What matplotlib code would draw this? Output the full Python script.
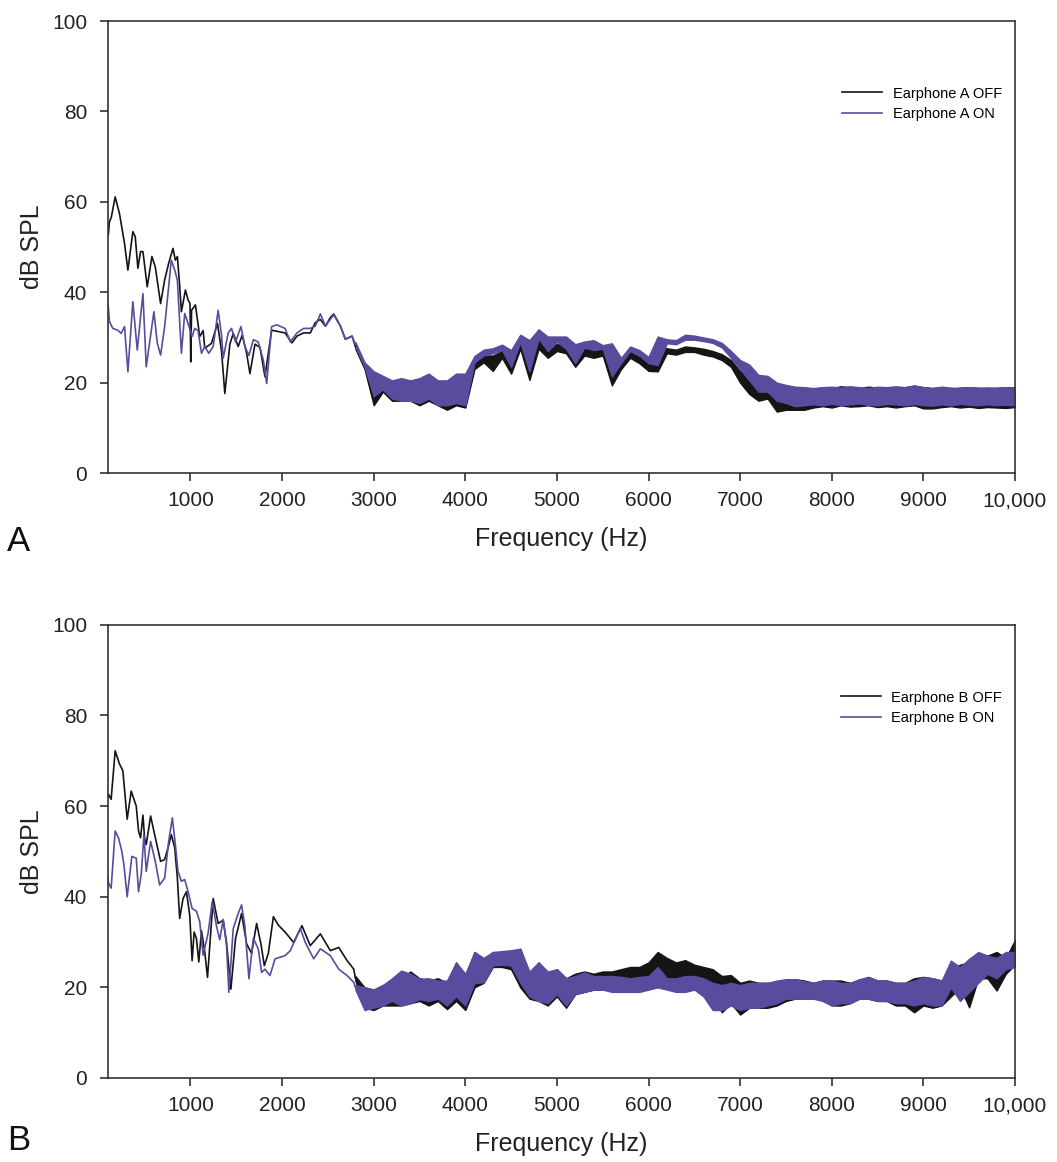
import matplotlib
matplotlib.use("Agg")
import matplotlib.pyplot as plt

plt.rcParams['font.family'] = ['Liberation Sans', 'DejaVu Sans']

# ---- Panel A: Earphone A ----
# clean part of the trace (feature points)
a_off_hz = [100, 105, 115, 135, 178, 225, 280, 317, 371, 397, 426, 455, 481, 528, 579,
            616, 674, 718, 762, 809, 835, 857, 880, 901, 945, 974, 995, 1003, 1012, 1054,
            1101, 1138, 1156, 1229, 1295, 1339, 1375, 1430, 1467, 1521, 1565, 1613, 1649, 1704, 1759,
            1813, 1886, 1960, 2033, 2108, 2162, 2235, 2308, 2363, 2418, 2473, 2527, 2564, 2637, 2691,
            2764, 2800]
a_off_db = [52.5, 53.0, 55.6, 56.5, 61.1, 57.4, 50.8, 44.9, 53.4, 52.3, 45.3, 49.0, 49.0, 41.2, 47.9,
            45.6, 37.5, 42.7, 46.4, 49.7, 47.1, 47.9, 42.0, 35.7, 40.5, 38.3, 37.5, 24.6, 36.0, 37.2,
            30.2, 31.5, 27.6, 28.7, 33.1, 27.0, 17.6, 28.5, 30.9, 28.0, 30.5, 26.5, 22.0, 28.5, 27.8,
            21.3, 31.6, 31.3, 31.0, 28.8, 30.3, 31.0, 31.0, 33.3, 34.0, 32.5, 34.4, 35.2, 32.5, 29.6,
            30.3, 28.0]
a_on_hz = [100, 116, 152, 207, 244, 280, 317, 371, 419, 481, 517, 601, 638, 674, 718,
           791, 828, 857, 901, 937, 974, 1018, 1047, 1083, 1120, 1156, 1200, 1248, 1302, 1339,
           1357, 1412, 1448, 1492, 1551, 1594, 1638, 1686, 1740, 1795, 1832, 1886, 1941, 2033, 2090,
           2162, 2235, 2308, 2363, 2418, 2473, 2527, 2564, 2637, 2691, 2764, 2800]
a_on_db = [37.5, 33.5, 32.0, 31.6, 30.9, 32.4, 22.4, 37.9, 27.2, 39.7, 23.5, 35.7, 28.7, 26.1, 32.4,
           47.1, 44.9, 42.7, 26.5, 35.3, 33.1, 30.2, 32.0, 31.5, 26.5, 28.0, 26.5, 28.0, 36.0, 30.5,
           25.4, 31.0, 32.0, 29.0, 32.4, 28.0, 26.0, 29.5, 29.0, 25.0, 19.8, 32.4, 32.8, 32.0, 29.0,
           31.0, 32.0, 32.0, 32.5, 35.2, 32.5, 34.0, 35.0, 32.5, 29.6, 30.3, 28.5]

# noisy part: low / high edge of the trace per 100 Hz, 2800 .. 10000 Hz
band_hz = list(range(2800, 10001, 100))

a_off_lo = [27.5, 23.0, 15.0, 18.0, 16.0, 16.0, 16.0, 15.0, 16.0, 15.0,
            14.0, 15.0, 14.5, 23.0, 24.5, 22.6, 25.5, 22.0, 27.5, 20.6,
            27.5, 25.5, 27.0, 26.5, 23.5, 26.0, 25.5, 26.0, 19.4, 23.0,
            25.5, 24.3, 22.6, 22.5, 26.5, 26.2, 26.8, 26.8, 26.2, 25.8,
            25.0, 23.5, 20.0, 17.5, 16.0, 16.5, 13.6, 14.0, 14.0, 14.0,
            14.5, 14.8, 14.5, 15.0, 14.7, 14.8, 15.0, 14.6, 14.8, 14.5,
            14.8, 15.0, 14.3, 14.3, 14.6, 14.8, 14.5, 14.7, 14.4, 14.6,
            14.5, 14.4, 14.6]
a_off_hi = [28.5, 24.0, 21.0, 21.0, 20.0, 20.5, 20.0, 20.0, 21.5, 20.0,
            20.0, 21.5, 21.5, 24.8, 26.0, 26.0, 27.0, 25.7, 29.4, 27.5,
            29.5, 28.3, 28.5, 28.3, 27.0, 27.5, 27.5, 27.3, 27.0, 24.8,
            26.8, 25.7, 24.5, 28.0, 27.6, 27.3, 28.0, 27.8, 27.5, 27.0,
            26.3, 25.0, 22.5, 22.0, 20.0, 19.5, 18.0, 18.5, 18.5, 18.0,
            18.5, 19.0, 18.8, 19.2, 19.0, 18.8, 19.1, 18.9, 19.0, 18.8,
            19.0, 19.3, 19.0, 18.8, 19.0, 18.7, 18.9, 19.0, 18.8, 18.9,
            18.8, 19.0, 18.9]
a_on_lo = [28.0, 23.5, 17.0, 18.5, 16.5, 16.0, 16.0, 15.5, 16.5, 15.0,
           15.0, 15.5, 15.0, 24.5, 26.0, 26.5, 27.2, 23.5, 29.0, 22.5,
           29.8, 27.0, 29.0, 27.5, 24.3, 27.8, 27.2, 27.5, 21.4, 24.3,
           27.0, 26.0, 24.3, 23.9, 28.7, 28.5, 29.5, 29.5, 29.2, 28.8,
           27.8, 25.5, 23.0, 20.5, 18.0, 18.0, 16.0, 15.5, 14.8, 15.0,
           15.2, 15.0, 15.3, 15.0, 15.2, 15.4, 15.1, 15.0, 15.3, 15.2,
           15.0, 15.3, 15.0, 14.9, 15.2, 15.0, 15.3, 15.1, 15.0, 15.2,
           15.0, 15.1, 15.0]
a_on_hi = [29.0, 24.5, 22.5, 21.5, 20.5, 21.0, 20.5, 21.0, 22.0, 20.5,
           20.5, 22.0, 22.0, 25.9, 27.3, 27.6, 28.4, 27.2, 30.6, 29.4,
           31.8, 30.2, 30.2, 30.2, 28.5, 29.1, 29.4, 28.3, 28.7, 25.5,
           28.0, 27.2, 25.7, 30.2, 29.6, 29.4, 30.6, 30.4, 30.0, 29.6,
           28.8, 27.0, 25.0, 24.0, 21.7, 21.5, 20.0, 19.5, 19.1, 19.0,
           18.8, 19.0, 19.1, 18.9, 19.2, 19.0, 18.8, 19.1, 19.0, 19.2,
           19.0, 19.4, 19.0, 18.8, 19.1, 18.9, 18.8, 19.0, 18.9, 18.8,
           18.9, 19.0, 18.8]

# ---- Panel B: Earphone B ----
b_off_hz = [100, 105, 134, 178, 225, 262, 309, 353, 408, 433, 455, 481, 499, 517, 565,
            609, 674, 718, 755, 791, 828, 857, 882, 919, 956, 992, 1018, 1040, 1065, 1091,
            1120, 1156, 1186, 1248, 1302, 1357, 1393, 1441, 1492, 1558, 1613, 1667, 1722, 1770, 1806,
            1850, 1905, 1960, 2033, 2126, 2217, 2308, 2418, 2527, 2619, 2710, 2783, 2800]
b_off_db = [62.0, 62.6, 61.5, 72.2, 69.3, 67.8, 57.1, 63.3, 60.0, 54.5, 53.0, 58.0, 53.0, 51.5, 57.8,
            53.7, 47.8, 48.2, 50.8, 53.7, 50.8, 44.1, 35.2, 39.6, 41.1, 35.9, 25.9, 32.2, 30.8, 25.6,
            32.5, 27.8, 22.2, 39.6, 34.1, 34.8, 30.0, 19.6, 30.8, 36.3, 29.6, 27.5, 34.1, 29.5, 24.8,
            27.5, 35.6, 33.7, 32.2, 29.9, 33.6, 29.2, 31.8, 28.1, 28.8, 25.9, 24.0, 22.0]
b_on_hz = [100, 105, 134, 178, 214, 251, 273, 309, 360, 408, 433, 463, 492, 517, 565,
           616, 663, 718, 762, 802, 835, 864, 901, 937, 974, 1018, 1065, 1101, 1138, 1193,
           1237, 1284, 1320, 1357, 1393, 1419, 1467, 1521, 1558, 1594, 1638, 1686, 1740, 1777, 1813,
           1868, 1923, 2033, 2090, 2199, 2254, 2345, 2418, 2527, 2619, 2710, 2783, 2800]
b_on_db = [44.0, 43.0, 41.9, 54.5, 53.0, 50.0, 47.1, 40.0, 48.9, 48.5, 41.1, 45.0, 53.7, 45.6, 52.2,
           47.8, 42.6, 44.1, 52.2, 57.4, 51.5, 45.6, 43.4, 43.8, 41.1, 37.4, 36.8, 34.5, 27.1, 32.0,
           38.9, 33.5, 30.5, 35.0, 29.5, 18.9, 33.0, 36.3, 38.2, 33.5, 21.9, 30.8, 28.5, 23.3, 24.0,
           22.6, 26.3, 27.0, 28.1, 33.0, 29.9, 26.3, 28.5, 27.0, 24.0, 22.6, 21.1, 20.0]

b_off_lo = [21.5, 15.5, 15.0, 16.0, 16.0, 16.0, 16.5, 17.0, 16.0, 17.0,
            15.2, 17.0, 15.0, 20.0, 21.0, 24.5, 24.5, 24.0, 20.0, 17.5,
            17.0, 16.0, 18.0, 15.5, 18.5, 19.0, 19.5, 19.5, 19.5, 19.5,
            20.0, 20.0, 20.0, 21.0, 21.0, 21.0, 20.5, 20.0, 19.0, 18.0,
            14.5, 16.5, 14.0, 15.5, 15.5, 15.5, 16.0, 17.0, 17.5, 17.5,
            17.5, 17.5, 16.0, 16.0, 16.5, 17.5, 17.5, 17.0, 17.0, 16.0,
            16.0, 14.5, 16.0, 15.5, 16.0, 18.0, 20.0, 15.6, 22.0, 22.0,
            19.3, 23.0, 25.0]
b_off_hi = [22.5, 20.0, 19.5, 20.5, 21.0, 22.0, 23.5, 22.0, 21.5, 22.0,
            21.0, 25.5, 22.0, 27.8, 26.0, 27.8, 27.5, 28.0, 28.5, 23.0,
            25.5, 23.0, 24.0, 22.0, 23.0, 23.5, 23.0, 23.5, 23.5, 24.0,
            24.5, 24.5, 25.5, 27.8, 26.5, 25.5, 26.0, 25.0, 24.5, 24.0,
            22.5, 22.7, 21.0, 21.5, 21.0, 21.0, 21.0, 21.5, 21.8, 21.5,
            21.0, 21.5, 21.5, 21.5, 21.0, 21.5, 22.3, 21.5, 21.5, 21.0,
            21.0, 22.0, 22.3, 22.0, 21.5, 24.0, 25.0, 25.5, 27.5, 27.0,
            27.8, 26.5, 30.4]
b_on_lo = [19.5, 15.0, 15.5, 16.0, 17.0, 16.0, 16.5, 17.4, 17.0, 17.5,
           16.0, 18.0, 16.0, 21.0, 21.1, 24.8, 25.0, 24.8, 21.0, 18.0,
           17.0, 16.5, 18.5, 16.0, 18.5, 19.0, 19.5, 19.5, 19.0, 19.0,
           19.0, 19.0, 19.5, 20.0, 19.5, 19.0, 19.0, 19.5, 18.0, 15.0,
           15.0, 16.0, 15.0, 15.5, 15.5, 16.0, 16.5, 17.5, 17.5, 17.5,
           17.5, 17.0, 16.0, 16.5, 16.5, 17.5, 17.5, 17.0, 17.0, 16.5,
           16.5, 16.0, 16.5, 16.0, 16.0, 20.0, 17.0, 19.0, 21.0, 23.0,
           22.0, 24.0, 24.5]
b_on_hi = [20.5, 20.0, 19.5, 20.5, 22.0, 23.7, 23.0, 21.9, 22.0, 21.5,
           21.5, 25.5, 23.0, 27.8, 26.5, 27.8, 28.0, 28.2, 28.5, 23.5,
           25.5, 23.5, 24.0, 22.0, 22.5, 23.3, 22.5, 22.5, 22.5, 22.3,
           22.0, 22.3, 22.5, 24.5, 22.0, 22.0, 22.5, 22.5, 22.0, 21.0,
           20.5, 21.0, 20.5, 21.0, 21.0, 21.0, 21.5, 21.8, 21.8, 21.3,
           21.0, 21.5, 21.5, 21.0, 21.0, 21.8, 22.3, 21.5, 21.5, 21.0,
           21.0, 21.5, 22.3, 22.0, 21.5, 25.9, 24.5, 26.3, 27.8, 27.0,
           26.5, 27.8, 27.8]

x_ticks = [1000, 2000, 3000, 4000, 5000, 6000, 7000, 8000, 9000, 10000]
x_tick_labels = ['1000', '2000', '3000', '4000', '5000', '6000', '7000', '8000', '9000', '10,000']
y_ticks = [0, 20, 40, 60, 80, 100]

BLACK = '#151515'
PURPLE = '#5b4b9f'


def draw_panel(ax, name, off_hz, off_db, off_lo, off_hi, on_hz, on_db, on_lo, on_hi):
    ax.plot(off_hz, off_db, color=BLACK, lw=1.2, label=f'Earphone {name} OFF')
    ax.fill_between(band_hz, off_lo, off_hi, color=BLACK, lw=1.0)
    ax.plot(on_hz, on_db, color=PURPLE, lw=1.2, label=f'Earphone {name} ON')
    ax.fill_between(band_hz, on_lo, on_hi, color=PURPLE, lw=1.0)

    ax.set_xlim(100, 10000)
    ax.set_ylim(0, 100)
    ax.set_xticks(x_ticks)
    ax.set_xticklabels(x_tick_labels)
    ax.set_yticks(y_ticks)
    ax.tick_params(axis='both', direction='out', length=6, width=1.1,
                   labelsize=15, colors='#222222')
    ax.tick_params(axis='x', pad=7)
    ax.tick_params(axis='y', pad=9)
    for sp in ax.spines.values():
        sp.set_linewidth(1.2)
        sp.set_color('#333333')
    ax.set_xlabel('Frequency (Hz)', fontsize=18, labelpad=12, color='#222222')
    ax.set_ylabel('dB SPL', fontsize=18, labelpad=6, color='#222222')
    ax.legend(loc='upper right', bbox_to_anchor=(1.0, 0.884), frameon=False,
              fontsize=10.5, handlelength=2.75, handletextpad=0.7, labelspacing=0.45)


fig = plt.figure(figsize=(10.57, 11.62), dpi=100)
ax_a = fig.add_axes([0.1022, 0.5929, 0.858, 0.389])
ax_b = fig.add_axes([0.1022, 0.0723, 0.858, 0.390])

draw_panel(ax_a, 'A', a_off_hz, a_off_db, a_off_lo, a_off_hi, a_on_hz, a_on_db, a_on_lo, a_on_hi)
draw_panel(ax_b, 'B', b_off_hz, b_off_db, b_off_lo, b_off_hi, b_on_hz, b_on_db, b_on_lo, b_on_hi)

fig.text(0.007, 0.526, 'A', fontsize=25, color='#111111')
fig.text(0.007, 0.010, 'B', fontsize=25, color='#111111')

fig.savefig('out.png', dpi=100)
